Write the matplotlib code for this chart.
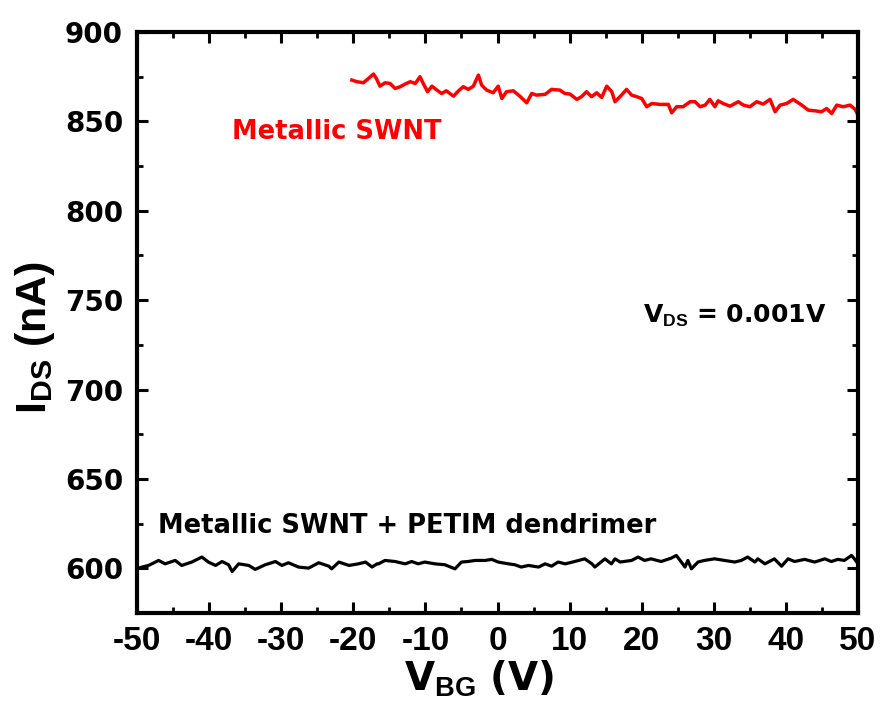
import matplotlib
matplotlib.use("Agg")
import matplotlib.pyplot as plt
from matplotlib.ticker import MultipleLocator

# ---- data ----
red_vbg = [-20.2, -19.5, -18.6, -17.9, -17.2, -16.8, -16.3, -15.6, -14.9, -14.2,
           -13.5, -12.8, -12.1, -11.4, -10.75, -10.3, -9.7, -9.1, -8.4, -7.75,
           -7.1, -6.1, -5.4, -4.75, -4.05, -3.35, -2.65, -2.2, -1.5, -0.6,
           0.1, 0.6, 1.25, 2.2, 3.1, 4.05, 4.75, 5.4, 6.6, 7.5,
           8.65, 9.35, 10.05, 11.0, 11.65, 12.35, 13.05, 13.75, 14.45, 15.15,
           15.85, 16.3, 17.2, 17.9, 18.6, 19.3, 20.0, 20.7, 21.4, 22.55,
           23.7, 24.15, 24.85, 25.75, 26.7, 27.4, 28.1, 28.8, 29.45, 30.15,
           30.6, 31.3, 32.25, 33.4, 34.1, 35.0, 35.95, 36.85, 37.8, 38.5,
           39.2, 40.1, 41.0, 42.2, 43.1, 44.05, 44.95, 45.65, 46.35, 47.05,
           47.95, 48.9, 49.6, 50.0]
red_ids = [873.1, 872.2, 871.6, 874.0, 876.5, 874.0, 869.7, 871.6, 871.2, 868.4,
           869.4, 870.9, 872.2, 871.2, 875.0, 871.2, 866.6, 869.7, 867.5, 865.6,
           867.1, 864.1, 867.1, 869.4, 867.9, 869.7, 875.9, 870.3, 867.5, 866.0,
           869.7, 862.8, 866.6, 867.1, 864.1, 860.4, 865.6, 864.7, 865.1, 867.9,
           867.5, 865.6, 865.3, 862.3, 863.8, 866.6, 863.8, 866.0, 863.4, 869.7,
           866.6, 861.0, 864.7, 867.9, 864.7, 863.8, 862.8, 858.2, 860.0, 859.5,
           859.5, 854.8, 858.2, 858.2, 861.0, 861.0, 858.2, 859.1, 862.3, 858.2,
           861.5, 860.0, 858.5, 861.0, 859.1, 858.2, 861.0, 859.7, 862.3, 855.4,
           859.1, 860.0, 862.3, 859.1, 856.3, 855.9, 855.4, 857.2, 854.4, 859.1,
           858.2, 859.1, 856.7, 853.5]

blk_vbg = [-50.0, -50.0, -49.3, -48.4, -47.0, -46.1, -44.7, -43.8, -42.4, -41.0,
           -40.1, -39.1, -38.2, -37.3, -36.8, -35.9, -34.5, -33.6, -32.2, -30.8,
           -29.9, -29.0, -27.6, -26.2, -24.8, -23.4, -23.0, -22.0, -20.6, -19.3,
           -18.3, -17.4, -16.7, -16.5, -15.6, -14.2, -12.8, -11.9, -11.0, -10.1,
           -8.7, -7.3, -5.9, -5.0, -4.1, -3.1, -1.7, -0.8, 0.1, 1.5,
           2.4, 3.3, 4.3, 5.7, 6.6, 7.5, 8.4, 9.4, 10.7, 12.1,
           13.1, 13.5, 14.9, 15.8, 16.3, 17.0, 18.6, 19.5, 20.4, 21.3,
           22.7, 24.1, 24.8, 25.5, 26.0, 26.4, 26.9, 27.8, 28.7, 30.1,
           31.5, 32.9, 33.8, 34.7, 35.7, 36.1, 37.1, 38.4, 39.4, 40.3,
           41.2, 42.6, 44.0, 45.4, 46.3, 47.2, 48.1, 49.1, 49.5, 50.0]
blk_ids = [598.5, 599.7, 600.7, 601.6, 604.4, 602.5, 604.4, 601.6, 603.5, 606.3,
           603.5, 601.6, 603.8, 602.0, 598.2, 602.5, 601.6, 599.4, 602.0, 603.8,
           601.6, 603.1, 600.7, 600.1, 603.1, 601.2, 599.7, 603.5, 601.6, 602.5,
           603.5, 600.7, 602.5, 602.5, 604.4, 603.8, 602.5, 603.8, 602.5, 603.5,
           602.5, 602.0, 599.7, 603.5, 603.8, 604.4, 604.4, 605.0, 603.5, 602.5,
           602.0, 600.7, 601.6, 600.7, 602.5, 601.2, 603.5, 602.5, 603.8, 605.3,
           602.5, 600.7, 605.3, 602.5, 605.3, 603.5, 604.4, 606.3, 604.4, 605.3,
           603.8, 605.7, 607.2, 603.5, 600.7, 604.4, 599.7, 603.5, 604.4, 605.3,
           604.4, 603.5, 604.4, 606.3, 603.5, 605.3, 602.5, 605.3, 601.2, 605.3,
           603.8, 605.0, 603.5, 605.3, 603.8, 605.0, 604.4, 607.2, 605.3, 602.5]

x_ticks = [-50, -40, -30, -20, -10, 0, 10, 20, 30, 40, 50]
y_ticks = [600, 650, 700, 750, 800, 850, 900]

label_red = "Metallic SWNT"
label_blk = "Metallic SWNT + PETIM dendrimer"

# ---- figure ----
plt.rcParams['mathtext.fontset'] = 'custom'
plt.rcParams['mathtext.bf'] = 'Liberation Sans:bold'
plt.rcParams['mathtext.rm'] = 'Liberation Sans:bold'
plt.rcParams['mathtext.it'] = 'Liberation Sans:bold'

fig = plt.figure(figsize=(8.83, 7.16), dpi=100)
ax = fig.add_axes([137/883, 1-613/716, (858-137)/883, (613-32)/716])

ax.plot(red_vbg, red_ids, color='#ff0000', lw=2.5, solid_joinstyle='round')
ax.plot(blk_vbg, blk_ids, color='black', lw=2.3, solid_joinstyle='round')

ax.set_xlim(-50, 50)
ax.set_ylim(575, 900)
ax.set_xticks(x_ticks)
ax.set_yticks(y_ticks)
ax.xaxis.set_minor_locator(MultipleLocator(5))
ax.yaxis.set_minor_locator(MultipleLocator(25))
ax.set_xticklabels([str(v) for v in x_ticks])
ax.set_yticklabels([str(v) for v in y_ticks])

for s in ax.spines.values():
    s.set_linewidth(3.0)
ax.tick_params(which='both', direction='in', top=True, right=True)
ax.tick_params(which='major', length=8, width=2.2)
ax.tick_params(which='minor', length=4.5, width=2.0)
ax.tick_params(axis='x', which='major', pad=9)
ax.tick_params(axis='y', which='major', pad=10)
for lab in ax.get_xticklabels():
    lab.set_fontfamily('Liberation Sans')
    lab.set_fontweight('bold')
    lab.set_fontsize(24)
for lab in ax.get_yticklabels():
    lab.set_fontfamily('DejaVu Sans')
    lab.set_fontweight('bold')
    lab.set_fontsize(20)

ax.set_xlabel(r'V$_{\mathbf{BG}}$ (V)', fontsize=28, fontweight='bold',
              family='DejaVu Sans')
ax.xaxis.set_label_coords(0.474, -0.078)
ax.xaxis.label.set_va('top')
ax.set_ylabel(r'I$_{\mathbf{DS}}$ (nA)', fontsize=31, fontweight='bold',
              family='Liberation Sans')
ax.yaxis.set_label_coords(-0.111, 0.475)

ax.text(-36.8, 840.1, label_red, color='#ff0000', fontsize=18.5,
        fontweight='bold', family='DejaVu Sans', va='baseline', ha='left')
ax.text(-47.1, 619.5, label_blk, color='black', fontsize=18.5,
        fontweight='bold', family='DejaVu Sans', va='baseline', ha='left')
ax.text(20.2, 737.1, r'V$_{\mathbf{DS}}$ = 0.001V', color='black', fontsize=18,
        fontweight='bold', family='DejaVu Sans', va='baseline', ha='left')

fig.savefig('out.png', dpi=100)
